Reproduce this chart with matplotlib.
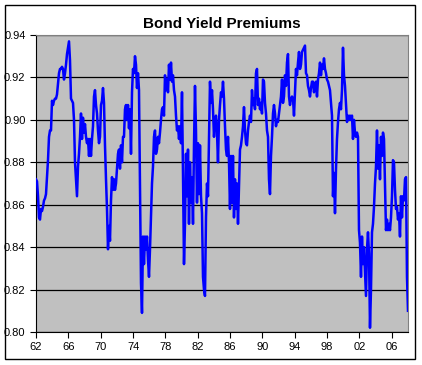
import numpy as np
import matplotlib
matplotlib.use("Agg")
import matplotlib.pyplot as plt
from matplotlib.patches import Rectangle

# values, roughly evenly spaced from 1962 to 2008
premium = [
    # 1962-1969
    0.872, 0.871, 0.864, 0.854, 0.853, 0.858, 0.857, 0.859, 0.862, 0.863,
    0.865, 0.873, 0.881, 0.892, 0.895, 0.895, 0.909, 0.907, 0.909, 0.910,
    0.910, 0.912, 0.917, 0.922, 0.924, 0.924, 0.925, 0.924, 0.919, 0.922,
    0.926, 0.931, 0.934, 0.937, 0.928, 0.910, 0.909, 0.908, 0.900, 0.880,
    0.872, 0.864, 0.878, 0.884, 0.892, 0.903, 0.891, 0.901, 0.894, 0.898,
    0.892, 0.889, 0.891, 0.883, 0.891, 0.883, 0.891, 0.897, 0.911, 0.914,
    0.907, 0.903, 0.895, 0.889,
    # 1970-1977
    0.892, 0.907, 0.909, 0.915, 0.908, 0.888, 0.872, 0.858, 0.839, 0.850,
    0.843, 0.862, 0.873, 0.867, 0.872, 0.867, 0.870, 0.877, 0.884, 0.886,
    0.877, 0.888, 0.880, 0.892, 0.892, 0.905, 0.907, 0.900, 0.907, 0.896,
    0.905, 0.884, 0.913, 0.924, 0.922, 0.930, 0.926, 0.915, 0.922, 0.914,
    0.870, 0.823, 0.809, 0.845, 0.832, 0.845, 0.839, 0.845, 0.834, 0.826,
    0.839, 0.854, 0.870, 0.878, 0.892, 0.895, 0.884, 0.886, 0.892, 0.889,
    0.894, 0.900, 0.905, 0.906,
    # 1978-1985
    0.902, 0.921, 0.914, 0.919, 0.913, 0.926, 0.919, 0.927, 0.918, 0.921,
    0.914, 0.911, 0.902, 0.895, 0.897, 0.891, 0.897, 0.889, 0.913, 0.875,
    0.832, 0.851, 0.884, 0.864, 0.886, 0.851, 0.880, 0.861, 0.873, 0.851,
    0.888, 0.916, 0.895, 0.861, 0.889, 0.865, 0.888, 0.864, 0.856, 0.826,
    0.820, 0.817, 0.854, 0.870, 0.864, 0.892, 0.918, 0.908, 0.914, 0.905,
    0.892, 0.899, 0.902, 0.894, 0.880, 0.900, 0.907, 0.913, 0.911, 0.918,
    0.910, 0.897, 0.886, 0.883,
    # 1986-1993
    0.892, 0.880, 0.858, 0.883, 0.861, 0.883, 0.854, 0.872, 0.858, 0.870,
    0.851, 0.869, 0.886, 0.888, 0.892, 0.897, 0.906, 0.895, 0.889, 0.888,
    0.895, 0.899, 0.902, 0.899, 0.914, 0.907, 0.910, 0.905, 0.922, 0.924,
    0.907, 0.910, 0.905, 0.908, 0.903, 0.919, 0.918, 0.908, 0.903, 0.895,
    0.892, 0.872, 0.865, 0.883, 0.892, 0.903, 0.907, 0.903, 0.897, 0.900,
    0.899, 0.903, 0.907, 0.911, 0.919, 0.908, 0.911, 0.921, 0.916, 0.927,
    0.931, 0.911, 0.907, 0.910,
    # 1994-2001
    0.911, 0.910, 0.902, 0.913, 0.924, 0.921, 0.927, 0.932, 0.924, 0.926,
    0.932, 0.933, 0.934, 0.935, 0.922, 0.921, 0.916, 0.914, 0.911, 0.915,
    0.918, 0.918, 0.913, 0.916, 0.918, 0.911, 0.919, 0.922, 0.927, 0.921,
    0.926, 0.924, 0.929, 0.924, 0.922, 0.919, 0.918, 0.916, 0.914, 0.908,
    0.902, 0.864, 0.875, 0.856, 0.877, 0.891, 0.899, 0.905, 0.908, 0.905,
    0.914, 0.934, 0.921, 0.916, 0.907, 0.899, 0.902, 0.900, 0.902, 0.900,
    0.902, 0.891, 0.900, 0.894,
    # 2002-2008
    0.892, 0.894, 0.892, 0.848, 0.842, 0.826, 0.845, 0.832, 0.840, 0.829,
    0.817, 0.839, 0.847, 0.837, 0.802, 0.820, 0.847, 0.851, 0.859, 0.870,
    0.878, 0.895, 0.877, 0.888, 0.872, 0.892, 0.883, 0.894, 0.891, 0.870,
    0.848, 0.853, 0.848, 0.851, 0.848, 0.854, 0.864, 0.881, 0.880, 0.867,
    0.858, 0.859, 0.853, 0.856, 0.845, 0.864, 0.854, 0.864, 0.862, 0.872,
    0.873, 0.826, 0.810,
]
start_year, end_year = 1962, 2008
tick_years = list(range(1962, 2007, 4))
tick_labels = ["%02d" % (y % 100) for y in tick_years]
y_ticks = [0.80, 0.82, 0.84, 0.86, 0.88, 0.90, 0.92, 0.94]

years = np.linspace(start_year, end_year, len(premium))

plt.rcParams['font.family'] = ['Liberation Sans', 'DejaVu Sans']

fig = plt.figure(figsize=(4.22, 3.65), dpi=100)
fig.patch.set_facecolor("white")
# outer chart border
fig.patches.append(Rectangle((0.012, 0.016), 0.972, 0.970, transform=fig.transFigure,
                             fill=False, edgecolor="black", linewidth=1.0))

ax = fig.add_axes([0.0853, 0.0904, 0.8815, 0.8137])
ax.set_facecolor("#C0C0C0")
ax.plot(years, premium, color="#0000FF", linewidth=1.8, zorder=3)

ax.set_xlim(start_year, end_year)
ax.set_ylim(0.80, 0.94)
ax.set_xticks(tick_years)
ax.set_xticklabels(tick_labels)
ax.set_yticks(y_ticks)
ax.set_yticklabels(["%.2f" % v for v in y_ticks])
ax.yaxis.grid(True, color="black", linewidth=0.9)
ax.set_axisbelow(True)

ax.tick_params(axis="both", direction="out", length=4, width=0.8, labelsize=8, colors="black")
for s in ["top", "right"]:
    ax.spines[s].set_color("#808080")
for s in ["left", "bottom"]:
    ax.spines[s].set_color("black")

ax.set_title("Bond Yield Premiums", fontsize=11, fontweight="bold", pad=5)

plt.savefig("out.png", dpi=100)
